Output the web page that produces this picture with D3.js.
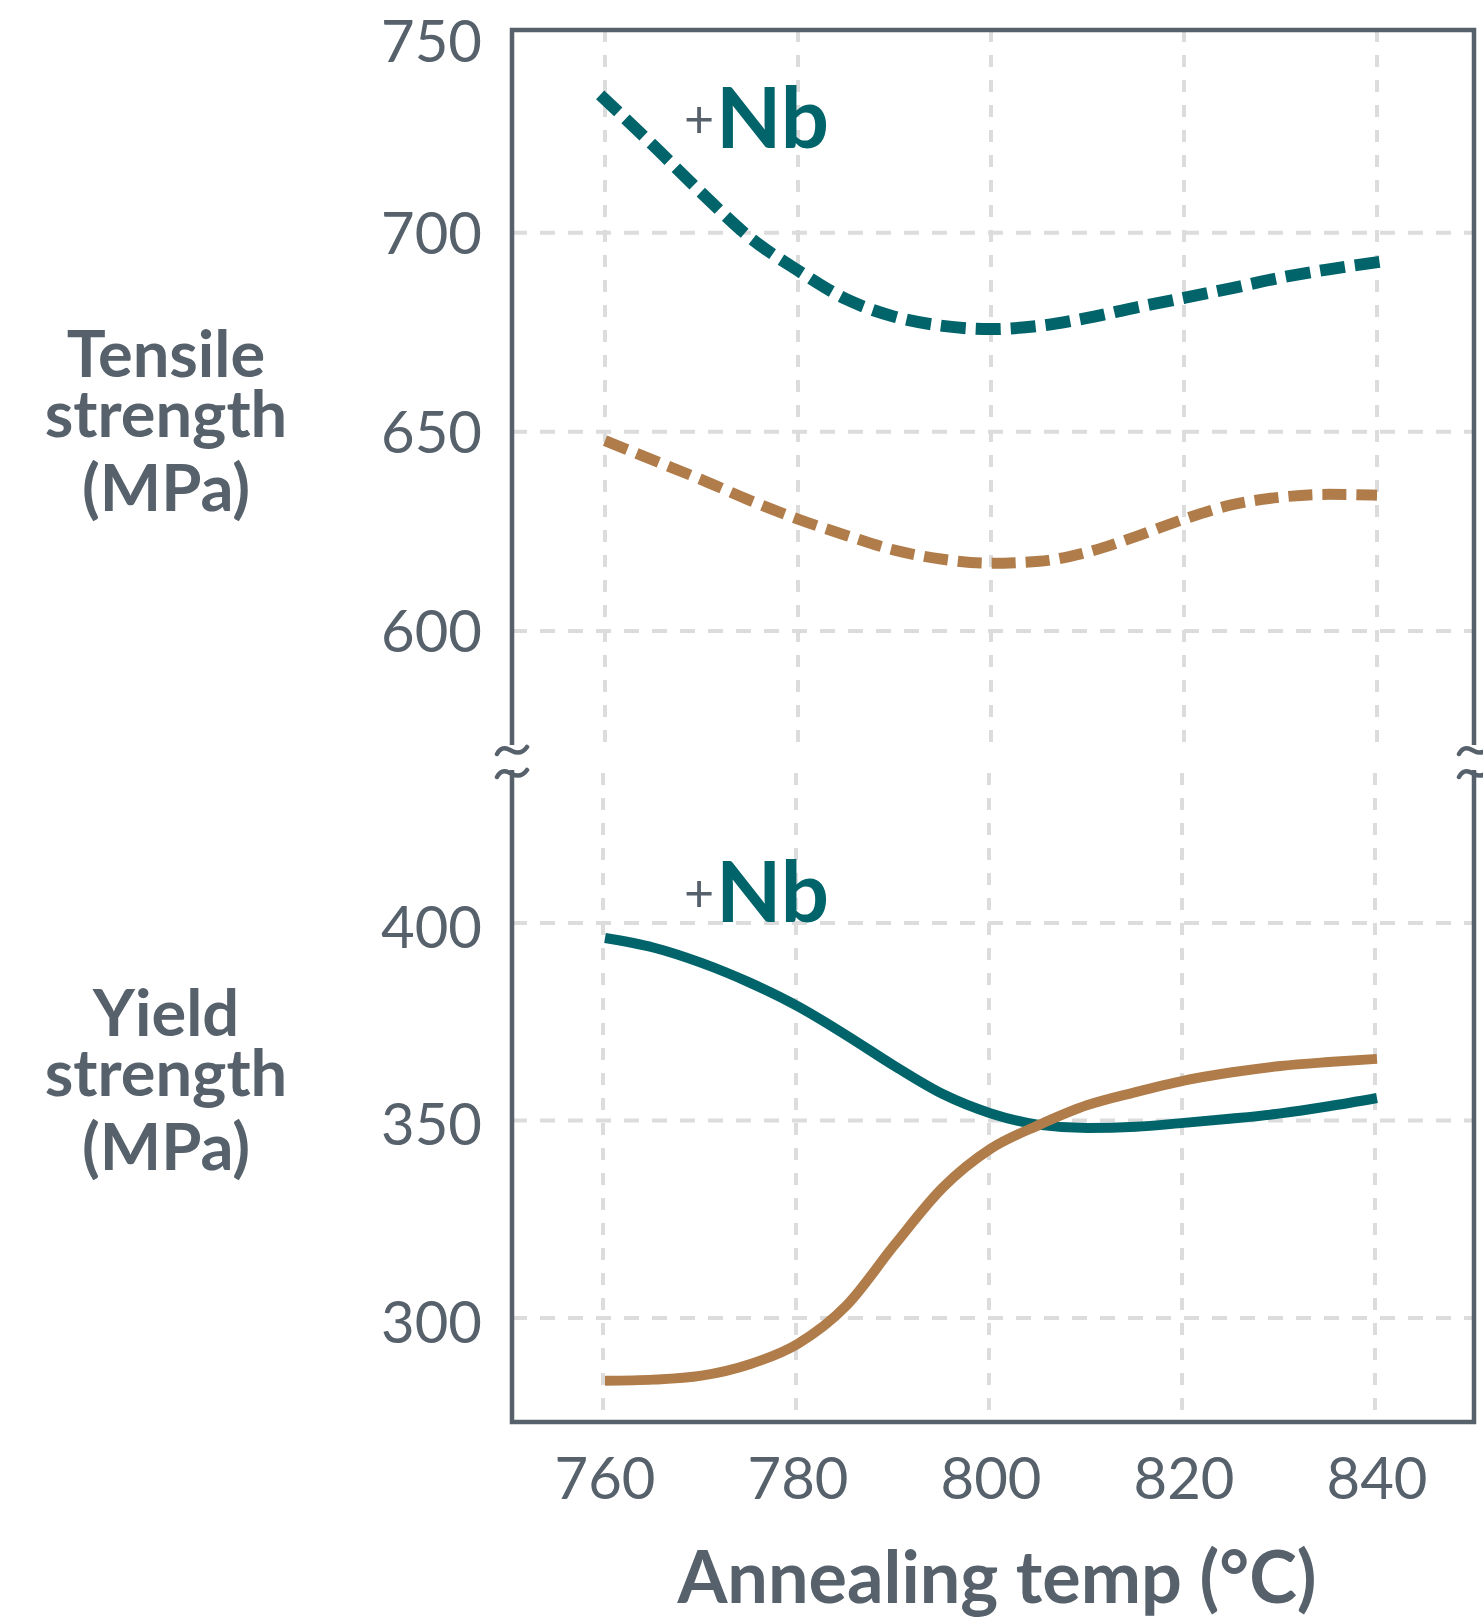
<!DOCTYPE html>
<html><head><meta charset="utf-8">
<script src="https://cdn.jsdelivr.net/npm/d3@7"></script>
<style>
html,body{margin:0;padding:0;background:#fff;}
svg{display:block;font-family:Lato,"Open Sans",sans-serif;}
</style></head>
<body><svg id="c" width="1483" height="1618"></svg>
<script>
// ---- data ----
const temps = [760,765,770,775,780,785,790,795,800,805,810,815,820,825,830,835,840];
const tempsNbTensile = [759.5,765,770,775,780,785,790,795,800,805,810,815,820,825,830,835,841];
const tensileNb   = [734.6,721.9,710.0,698.8,690.5,683.3,678.9,676.6,675.8,676.6,678.6,681.2,683.6,686.1,688.7,690.8,692.9];
const tensileBase = [647.8,642.9,638.0,632.8,628.1,624.0,620.3,618.0,617.0,617.5,619.8,623.7,628.1,631.7,633.6,634.3,634.1];
const yieldNb     = [396.2,393.8,389.9,384.9,378.9,371.6,363.8,356.7,351.8,348.9,348.1,348.4,349.4,350.5,351.8,353.6,355.7];
const yieldBase   = [284.1,284.4,285.4,288.3,293.5,303.1,318.5,333.0,342.9,348.9,353.9,357.2,360.1,362.2,363.8,364.8,365.6];
const xTicks = [760,780,800,820,840];
const tensileTicks = [750,700,650,600];
const yieldTicks = [400,350,300];
const tensileTitle = ["Tensile","strength","(MPa)"];
const yieldTitle = ["Yield","strength","(MPa)"];
const xTitle = "Annealing temp (\u00b0C)";
const nbLabel = "Nb", plusLabel = "+";
</script>
<script>
const svg = d3.select("#c");
const GRAY = "#56616c", TEAL = "#00646a", TAN = "#b07c4a", GRID = "#dcdcdc";
const L = 512, R = 1474, T = 30, B = 1422, brkTop = 752, brkBot = 773;

const x = d3.scaleLinear().domain([760,840]).range([605,1377]);
const yT = d3.scaleLinear().domain([600,750]).range([631,33.5]);
const yY = d3.scaleLinear().domain([300,400]).range([1318,923]);

// gridlines
const g = svg.append("g");
xTicks.forEach(t=>{
  g.append("line").attr("x1",x(t)).attr("x2",x(t)).attr("y1",T).attr("y2",brkTop)
   .attr("stroke",GRID).attr("stroke-width",4).attr("stroke-dasharray","12,13");
  g.append("line").attr("x1",x(t)-2).attr("x2",x(t)-2).attr("y1",brkBot).attr("y2",B)
   .attr("stroke",GRID).attr("stroke-width",4).attr("stroke-dasharray","12,13");
});
tensileTicks.filter(t=>t<750).forEach(t=>{
  g.append("line").attr("x1",L).attr("x2",R).attr("y1",yT(t)).attr("y2",yT(t))
   .attr("stroke",GRID).attr("stroke-width",4).attr("stroke-dasharray","15,13");
});
yieldTicks.forEach(t=>{
  g.append("line").attr("x1",L).attr("x2",R).attr("y1",yY(t)).attr("y2",yY(t))
   .attr("stroke",GRID).attr("stroke-width",4).attr("stroke-dasharray","15,13");
});

// lines
const curve = d3.curveMonotoneX;
function drawLine(xs, ys, yScale, color, width, dash){
  const line = d3.line().x((d,i)=>x(xs[i])).y(d=>yScale(d)).curve(curve);
  svg.append("path").datum(ys).attr("d",line).attr("fill","none")
    .attr("stroke",color).attr("stroke-width",width)
    .attr("stroke-dasharray",dash||null).attr("stroke-linecap","butt");
}
drawLine(tempsNbTensile, tensileNb, yT, TEAL, 12, "25,10");
drawLine(temps, tensileBase, yT, TAN, 11, "24,10");
drawLine(temps, yieldNb, yY, TEAL, 10);
drawLine(temps, yieldBase, yY, TAN, 10);

// frame with break
const fr = svg.append("g").attr("fill","none").attr("stroke",GRAY).attr("stroke-width",4.5);
fr.append("path").attr("d",`M${L},745 L${L},${T} L${R},${T} L${R},745`);
fr.append("path").attr("d",`M${L},770 L${L},${B} L${R},${B} L${R},770`);
[L,R].forEach(cx=>{
  [751,774].forEach(cy=>{
    fr.append("path").attr("stroke-width",4.5).attr("stroke-linecap","round")
      .attr("d",`M${cx-15},${cy+3} C${cx-10},${cy-6} ${cx-4},${cy-2} ${cx},${cy} S${cx+10},${cy+3} ${cx+15},${cy-4}`);
  });
});

// tick labels
const tl = svg.append("g").attr("fill",GRAY).attr("font-size",58);
tensileTicks.forEach(t=>{
  tl.append("text").attr("x",482).attr("y",Math.max(yT(t),41)).attr("dy","0.36em")
    .attr("text-anchor","end").text(t);
});
yieldTicks.forEach(t=>{
  tl.append("text").attr("x",482).attr("y",yY(t)+4).attr("dy","0.36em")
    .attr("text-anchor","end").text(t);
});
xTicks.forEach(t=>{
  tl.append("text").attr("x",x(t)).attr("y",1499).attr("text-anchor","middle").text(t);
});

// axis titles
const at = svg.append("g").attr("fill",GRAY).attr("font-weight",700).attr("font-size",65).attr("text-anchor","middle");
const lineOff = [0,60,134];
tensileTitle.forEach((s,i)=>at.append("text").attr("x",166).attr("y",377+lineOff[i]).text(s));
yieldTitle.forEach((s,i)=>at.append("text").attr("x",166).attr("y",1036+lineOff[i]).text(s));
at.append("text").attr("x",997).attr("y",1603).attr("font-size",72).text(xTitle);

// +Nb labels
[148,922].forEach(by=>{
  svg.append("text").attr("x",699).attr("y",by-10).attr("text-anchor","middle")
    .attr("fill",GRAY).attr("font-size",52).text(plusLabel);
  svg.append("text").attr("x",716).attr("y",by).attr("fill",TEAL)
    .attr("font-weight",700).attr("font-size",85).text(nbLabel);
});
</script>
</body></html>
